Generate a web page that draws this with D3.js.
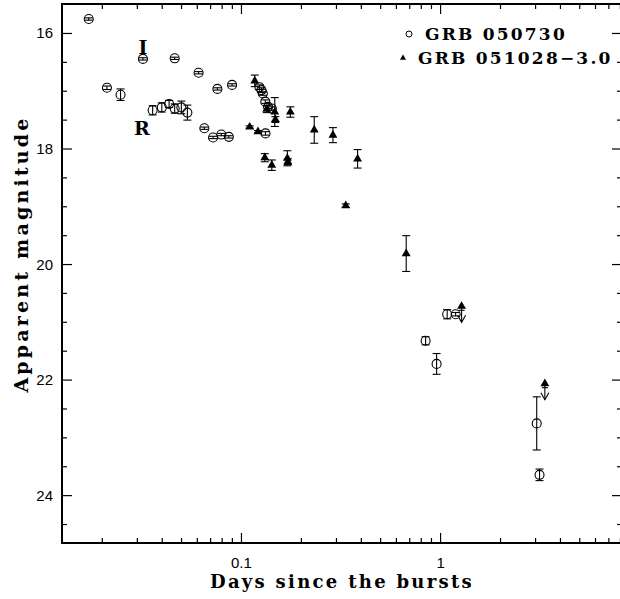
<!DOCTYPE html>
<html>
<head>
<meta charset="utf-8">
<script src="https://cdn.jsdelivr.net/npm/d3@7"></script>
<style>
    body { margin: 0; background: #fff; }
    svg { display: block; }
    .lbl { font-family: "DejaVu Serif", serif; font-weight: bold; fill: #000; }
    .tick-lbl { font-family: "Liberation Sans", Arial, sans-serif; font-size: 15px; fill: #000; }
</style>
</head>
<body>
<svg id="chart" width="620" height="599"></svg>
<script>
// GRB 050730 (open circles): days, magnitude, error
var grb050730Days = [0.0171, 0.0211, 0.0247, 0.0320, 0.0462, 0.0609, 0.0757, 0.0897,
                     0.0358, 0.0398, 0.0433, 0.0462, 0.0499, 0.0535, 0.0651, 0.0720, 0.0792, 0.0864,
                     0.1231, 0.126, 0.128, 0.1317, 0.136, 0.142, 0.132,
                     0.841, 0.955, 1.079, 1.19, 3.04, 3.14];
var grb050730Mag  = [15.75, 16.94, 17.06, 16.44, 16.43, 16.68, 16.96, 16.89,
                     17.33, 17.28, 17.22, 17.30, 17.28, 17.37, 17.64, 17.80, 17.75, 17.79,
                     16.93, 16.98, 17.04, 17.18, 17.27, 17.30, 17.73,
                     21.32, 21.72, 20.86, 20.86, 22.75, 23.64];
var grb050730Err  = [0.02, 0.03, 0.10, 0.02, 0.02, 0.02, 0.02, 0.02,
                     0.08, 0.08, 0.06, 0.08, 0.11, 0.13, 0.02, 0.02, 0.02, 0.02,
                     0.04, 0.04, 0.03, 0.03, 0.03, 0.03, 0.03,
                     0.07, 0.18, 0.08, 0.03, 0.46, 0.10];

// GRB 051028 shifted by -3.0 mag (filled triangles)
var grb051028Days = [0.1166, 0.110, 0.121, 0.134, 0.147, 0.148, 0.176, 0.131, 0.142,
                     0.170, 0.171, 0.232, 0.288, 0.383, 0.334, 0.672];
var grb051028Mag  = [16.82, 17.62, 17.70, 17.31, 17.36, 17.49, 17.36, 18.15, 18.28,
                     18.16, 18.22, 17.67, 17.76, 18.17, 18.98, 19.81];
var grb051028Err  = [0.10, 0.02, 0.02, 0.06, 0.25, 0.05, 0.09, 0.07, 0.09,
                     0.13, 0.05, 0.23, 0.13, 0.16, 0.03, 0.31];

// GRB 051028 upper limits
var limitDays = [1.275, 3.34];
var limitMag  = [20.74, 22.08];

var yMajorTicks = [16, 18, 20, 22, 24];
var xMajorTicks = [0.1, 1];
var xTickLabels = ["0.1", "1"];
var legendLabels = ["GRB 050730", "GRB 051028\u22123.0"];

var margin = {left: 62, right: 622, top: 4, bottom: 543};

var svg = d3.select("#chart");

var xScale = d3.scaleLog().domain([0.01255, 8.15]).range([margin.left, margin.right]);
var yScale = d3.scaleLinear().domain([15.49, 24.82]).range([margin.top, margin.bottom]);

// frame
svg.append("rect")
    .attr("x", margin.left).attr("y", margin.top)
    .attr("width", margin.right - margin.left)
    .attr("height", margin.bottom - margin.top)
    .style("fill", "none").style("stroke", "#000").style("stroke-width", 2);

// x ticks, bottom and top
var xMinor = [];
[0.01, 0.1, 1].forEach(function(dec) {
    for (var k = 2; k <= 9; k++) {
        var v = dec * k;
        if (v > xScale.domain()[0] && v < xScale.domain()[1]) xMinor.push(v);
    }
});

var ticks = svg.append("g").style("stroke", "#000").style("stroke-width", 1.2);

function xTick(v, len) {
    var x = xScale(v);
    ticks.append("line").attr("x1", x).attr("x2", x)
        .attr("y1", margin.bottom).attr("y2", margin.bottom - len);
    ticks.append("line").attr("x1", x).attr("x2", x)
        .attr("y1", margin.top).attr("y2", margin.top + len);
}
xMinor.forEach(function(v) { xTick(v, 5); });
xMajorTicks.forEach(function(v) { xTick(v, 10); });

var yMinor = d3.range(16, 24.81, 0.5).filter(function(v) { return yMajorTicks.indexOf(v) < 0; });

function yTick(v, len) {
    var y = yScale(v);
    ticks.append("line").attr("x1", margin.left).attr("x2", margin.left + len)
        .attr("y1", y).attr("y2", y);
    ticks.append("line").attr("x1", margin.right).attr("x2", margin.right - len)
        .attr("y1", y).attr("y2", y);
}
yMinor.forEach(function(v) { yTick(v, 5); });
yMajorTicks.forEach(function(v) { yTick(v, 10); });

// tick labels
svg.selectAll("text.ylab")
    .data(yMajorTicks)
    .enter().append("text")
    .attr("class", "tick-lbl")
    .attr("x", 53)
    .attr("y", function(d) { return yScale(d) + 5; })
    .attr("text-anchor", "end")
    .text(function(d) { return d; });

svg.selectAll("text.xlab")
    .data(xMajorTicks)
    .enter().append("text")
    .attr("class", "tick-lbl")
    .attr("x", function(d) { return xScale(d); })
    .attr("y", 568)
    .attr("text-anchor", "middle")
    .text(function(d, i) { return xTickLabels[i]; });

// axis titles
svg.append("text")
    .attr("class", "lbl")
    .attr("x", 342).attr("y", 588)
    .attr("text-anchor", "middle")
    .style("font-size", "18px")
    .style("letter-spacing", "2.3px")
    .text("Days since the bursts");

svg.append("text")
    .attr("class", "lbl")
    .attr("transform", "translate(28,254) rotate(-90)")
    .attr("text-anchor", "middle")
    .style("font-size", "19px")
    .style("letter-spacing", "3.2px")
    .text("Apparent magnitude");

// band labels
svg.append("text").attr("class", "lbl").attr("x", 143).attr("y", 54)
    .attr("text-anchor", "middle").style("font-size", "19px").text("I");
svg.append("text").attr("class", "lbl").attr("x", 142).attr("y", 135)
    .attr("text-anchor", "middle").style("font-size", "19px").text("R");

// error bars
function drawErrors(days, mags, errs) {
    var g = svg.append("g").style("stroke", "#000").style("stroke-width", 1.1);
    days.forEach(function(d, i) {
        var x = xScale(d),
            y1 = yScale(mags[i] - errs[i]),
            y2 = yScale(mags[i] + errs[i]);
        g.append("line").attr("x1", x).attr("x2", x).attr("y1", y1).attr("y2", y2);
        g.append("line").attr("x1", x - 4).attr("x2", x + 4).attr("y1", y1).attr("y2", y1);
        g.append("line").attr("x1", x - 4).attr("x2", x + 4).attr("y1", y2).attr("y2", y2);
    });
}

drawErrors(grb050730Days, grb050730Mag, grb050730Err);
drawErrors(grb051028Days, grb051028Mag, grb051028Err);

svg.append("g").selectAll("circle")
    .data(grb050730Days)
    .enter().append("circle")
    .attr("cx", function(d) { return xScale(d); })
    .attr("cy", function(d, i) { return yScale(grb050730Mag[i]); })
    .attr("r", 4.5)
    .style("fill", "none")
    .style("stroke", "#000")
    .style("stroke-width", 1.1);

var tri = d3.symbol().type(d3.symbolTriangle).size(34);

svg.append("g").selectAll("path")
    .data(grb051028Days)
    .enter().append("path")
    .attr("d", tri)
    .attr("transform", function(d, i) {
        return "translate(" + xScale(d) + "," + yScale(grb051028Mag[i]) + ")";
    })
    .style("fill", "#000");

// upper limits: triangle + downward arrow
var lim = svg.append("g").style("stroke", "#000").style("stroke-width", 1.1).style("fill", "none");
limitDays.forEach(function(d, i) {
    var x = xScale(d), y = yScale(limitMag[i]);
    lim.append("line").attr("x1", x - 3).attr("x2", x + 3).attr("y1", y + 3).attr("y2", y + 3);
    lim.append("line").attr("x1", x).attr("x2", x).attr("y1", y).attr("y2", y + 15);
    lim.append("path").attr("d", "M" + (x - 4) + "," + (y + 8) + "L" + x + "," + (y + 15) + "L" + (x + 4) + "," + (y + 8));
    svg.append("path").attr("d", tri)
        .attr("transform", "translate(" + x + "," + (y - 1) + ")")
        .style("fill", "#000");
});

// legend
var legend = svg.append("g");
legend.append("circle").attr("cx", 409).attr("cy", 34).attr("r", 3)
    .style("fill", "none").style("stroke", "#000").style("stroke-width", 1);
legend.append("path").attr("d", d3.symbol().type(d3.symbolTriangle).size(16))
    .attr("transform", "translate(403,58)").style("fill", "#000");
legend.selectAll("text")
    .data(legendLabels)
    .enter().append("text")
    .attr("class", "lbl")
    .attr("x", function(d, i) { return i === 0 ? 425 : 418; })
    .attr("y", function(d, i) { return 40 + i * 24; })
    .style("font-size", "17px")
    .style("letter-spacing", "2.2px")
    .text(function(d) { return d; });
</script>
</body>
</html>
